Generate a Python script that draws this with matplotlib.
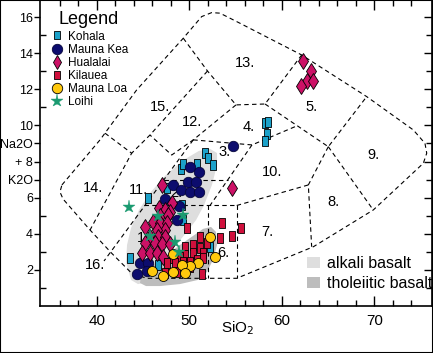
import numpy as np
import matplotlib
matplotlib.use("Agg")
from matplotlib import pyplot as plt
from matplotlib.path import Path
from matplotlib.patches import Polygon, Rectangle, Patch
from matplotlib.lines import Line2D

plt.rcParams['font.family'] = ['Liberation Sans', 'DejaVu Sans']

# samples: SiO2 (wt%) and Na2O + K2O (wt%)
kohala_si = [58.20, 58.55, 58.41, 58.20, 51.71, 52.06, 52.61, 49.06, 49.38, 50.81,
             47.57, 45.55, 49.19, 49.30, 43.60, 46.63, 48.65, 49.65, 52.25]
kohala_alk = [10.12, 10.21, 9.53, 9.14, 8.46, 8.18, 7.81, 7.59, 7.84, 7.86,
              6.52, 5.96, 5.59, 4.76, 2.63, 2.26, 2.16, 2.04, 3.27]

maunakea_si = [54.77, 50.09, 51.06, 48.25, 49.87, 50.74, 49.11, 50.09, 51.06, 47.38,
               48.90, 48.65, 44.68, 45.58, 44.39, 45.44]
maunakea_alk = [8.86, 7.71, 7.44, 6.70, 6.86, 6.86, 6.42, 6.33, 6.33, 5.92,
                5.53, 4.76, 2.35, 2.35, 1.76, 1.93]

hualalai_si = [62.27, 63.14, 62.77, 63.42, 62.09, 54.66, 47.03, 48.17, 46.74, 47.38,
               47.92, 46.84, 47.74, 45.22, 46.12, 46.84, 47.57, 47.38, 46.49, 45.76,
               46.66, 47.38, 45.22, 46.30, 47.03, 44.86, 45.76, 46.49, 47.20, 47.92]
hualalai_alk = [13.60, 13.02, 12.47, 12.49, 12.19, 6.55, 6.70, 5.72, 5.41, 5.31,
                5.22, 4.98, 5.03, 4.38, 4.66, 4.57, 4.57, 4.20, 4.20, 3.83,
                3.83, 3.83, 3.46, 3.46, 3.42, 2.91, 2.91, 2.91, 2.72, 3.40]

kilauea_si = [53.51, 55.57, 53.33, 54.66, 49.73, 51.17, 50.44, 49.55, 51.89, 51.17,
              51.52, 50.44, 49.55, 49.01, 48.11, 47.57, 48.46, 49.36, 50.09, 50.81,
              51.52, 50.09, 48.65, 51.35, 47.38]
kilauea_alk = [4.57, 4.30, 3.78, 3.84, 4.30, 3.83, 3.37, 3.27, 3.46, 3.19,
               2.91, 2.91, 2.81, 2.72, 2.63, 2.35, 2.35, 2.44, 2.44, 2.54,
               2.63, 2.16, 1.89, 1.76, 1.80]

maunaloa_si = [52.25, 48.28, 52.79, 50.98, 50.09, 49.19, 49.55, 48.28, 47.20, 45.98]
maunaloa_alk = [3.83, 2.87, 2.72, 2.35, 2.22, 2.26, 1.80, 1.85, 1.63, 1.95]

loihi_si = [43.44, 46.66, 49.36, 45.76, 48.42, 48.95]
loihi_alk = [5.45, 4.96, 5.01, 3.86, 3.55, 2.98]

# basalt fields
alkali_si = [43.71, 43.17, 43.28, 43.71, 44.57, 45.76, 47.38, 49.22, 51.06, 52.25, 53.01,
             53.01, 52.46, 51.60, 50.74, 49.65, 48.57, 47.49, 46.84, 46.30, 45.55, 44.46]
alkali_alk = [1.43, 2.43, 3.37, 4.31, 5.31, 6.25, 7.20, 8.03, 8.59, 8.70, 8.47,
              7.81, 6.70, 5.57, 4.75, 4.03, 3.37, 2.81, 2.43, 1.87, 1.32, 1.20]
thol_si = [44.68, 45.33, 46.84, 49.01, 50.95, 51.92, 52.57, 53.01, 52.90, 52.36, 51.49,
           50.41, 49.01, 47.71, 46.52, 45.55, 44.79]
thol_alk = [1.26, 1.09, 1.09, 1.20, 1.43, 1.87, 2.54, 3.37, 4.09, 4.37, 4.26,
            3.87, 3.37, 2.87, 2.43, 1.98, 1.59]

# TAS field outline and boundaries (SiO2, alkalis)
outline = [(36.24, 6.70), (40.36, 9.20), (44.32, 11.97), (49.36, 14.84), (51.35, 16.04),
           (52.43, 16.26), (53.33, 16.23), (55.49, 15.67), (62.16, 13.91), (69.19, 11.60),
           (74.23, 9.75), (75.49, 9.01), (75.68, 8.46), (75.31, 7.90), (69.90, 5.31),
           (63.42, 3.27), (55.14, 1.52), (45.41, 1.52), (43.78, 1.80), (41.62, 2.91),
           (39.28, 4.20), (36.36, 5.92), (36.03, 6.31), (36.24, 6.70)]
boundaries = [
    [(49.36, 14.84), (51.98, 13.02), (55.06, 11.14), (58.20, 11.19), (62.16, 13.91)],
    [(58.20, 11.19), (65.04, 8.82), (69.19, 11.60)],
    [(65.04, 8.82), (69.90, 5.31)],
    [(65.04, 8.82), (62.88, 6.70), (63.24, 3.27)],
    [(55.14, 5.56), (62.88, 6.70)],
    [(55.14, 5.56), (55.14, 1.52)],
    [(52.06, 5.56), (52.06, 1.52)],
    [(45.15, 5.56), (55.14, 5.56)],
    [(47.28, 6.98), (54.19, 6.98)],
    [(56.79, 8.92), (52.25, 5.56)],
    [(50.44, 9.20), (56.79, 8.92), (61.62, 9.97)],
    [(55.06, 11.14), (50.44, 9.20), (48.11, 8.36), (45.76, 9.47)],
    [(51.98, 13.02), (45.76, 9.47), (43.78, 8.46)],
    [(40.90, 9.57), (43.78, 8.46), (39.28, 4.20)],
    [(50.44, 9.20), (40.79, 2.48)],
]
field_names = ["1.", "2.", "3.", "4.", "5.", "6.", "7.", "8.", "9.", "10.",
               "11.", "12.", "13.", "14.", "15.", "16."]
field_si = [45.04, 48.65, 53.87, 56.39, 63.24, 53.69, 58.44, 65.58, 69.90, 58.92,
            44.50, 50.27, 56.03, 39.63, 46.84, 39.82]
field_alk = [3.74, 6.24, 8.55, 9.93, 11.04, 2.91, 4.11, 5.77, 8.36, 7.44,
             6.42, 10.21, 13.45, 6.51, 11.04, 2.26]

rect = Path([(-0.38, -0.5), (0.38, -0.5), (0.38, 0.5), (-0.38, 0.5), (-0.38, -0.5)], closed=True)

fig = plt.figure(figsize=(4.33, 3.53), dpi=100)
ax = fig.add_axes([40 / 433, 47.3 / 353, 392 / 433, 305.7 / 353])
ax.set_xlim(33.87, 76.25)
ax.set_ylim(0, 16.96)

ax.add_patch(Polygon(np.column_stack([alkali_si, alkali_alk]), closed=True,
                     facecolor='#dedede', edgecolor='none', zorder=1))
ax.add_patch(Polygon(np.column_stack([thol_si, thol_alk]), closed=True,
                     facecolor='#bdbdbd', edgecolor='none', zorder=1))

dash = (0, (4, 3))
ax.plot([p[0] for p in outline], [p[1] for p in outline], color='black', lw=0.8, ls=dash, zorder=2)
for seg in boundaries:
    ax.plot([p[0] for p in seg], [p[1] for p in seg], color='black', lw=0.8, ls=dash, zorder=2)

for name, x, y in zip(field_names, field_si, field_alk):
    ax.text(x, y, name, fontsize=10.5, ha='center', va='center', zorder=3)

ax.plot(kohala_si, kohala_alk, ls='none', marker=rect, ms=6.5, mfc='#1ba1c9', mec='black', mew=0.6, zorder=4)
ax.plot(maunakea_si, maunakea_alk, ls='none', marker='o', ms=7.5, mfc='#0c0c6e', mec='#05053a', mew=0.6, zorder=4)
ax.plot(hualalai_si, hualalai_alk, ls='none', marker='d', ms=8, mfc='#cc1166', mec='black', mew=0.6, zorder=4)
ax.plot(kilauea_si, kilauea_alk, ls='none', marker=rect, ms=6.5, mfc='#d0103c', mec='black', mew=0.6, zorder=4)
ax.plot(maunaloa_si, maunaloa_alk, ls='none', marker='o', ms=7.2, mfc='#ffc90e', mec='black', mew=0.6, zorder=4)
ax.plot(loihi_si, loihi_alk, ls='none', marker='*', ms=9.5, mfc='#1a9a70', mec='#1a9a70', mew=0.3, zorder=5)

handles = [
    Line2D([], [], ls='none', marker=rect, ms=6, mfc='#1ba1c9', mec='black', mew=0.6),
    Line2D([], [], ls='none', marker='o', ms=7.5, mfc='#0c0c6e', mec='#05053a', mew=0.6),
    Line2D([], [], ls='none', marker='d', ms=7.5, mfc='#cc1166', mec='black', mew=0.6),
    Line2D([], [], ls='none', marker=rect, ms=6, mfc='#d0103c', mec='black', mew=0.6),
    Line2D([], [], ls='none', marker='o', ms=7.5, mfc='#ffc90e', mec='black', mew=0.6),
    Line2D([], [], ls='none', marker='*', ms=9.5, mfc='#1a9a70', mec='#1a9a70', mew=0.3),
]
labels = ["Kohala", "Mauna Kea", "Hualalai", "Kilauea", "Mauna Loa", "Loihi"]
leg = ax.legend(handles, labels, loc='upper left', bbox_to_anchor=(12.3 / 392, 1 - 30.5 / 305.7),
                frameon=False, borderpad=0, handlelength=0.8, handletextpad=0.5,
                labelspacing=0.1, fontsize=8.5, borderaxespad=0)
ax.add_artist(leg)
ax.text(18 / 392, 1 - 24.5 / 305.7, "Legend", transform=ax.transAxes, fontsize=13,
        ha='left', va='baseline')

leg2 = ax.legend([Patch(facecolor='#dedede'), Patch(facecolor='#bdbdbd')],
                 ["alkali basalt", "tholeiitic basalt"], loc='upper left',
                 bbox_to_anchor=(266.7 / 392, 1 - 256 / 305.7), frameon=False, borderpad=0,
                 handlelength=0.82, handleheight=0.68, handletextpad=0.42, labelspacing=0.32,
                 fontsize=11.5, borderaxespad=0)

ax.set_xticks([40, 50, 60, 70])
ax.set_xticks(np.arange(36, 76, 2), minor=True)
ax.tick_params(axis='x', which='both', direction='in', top=True, labelsize=11, pad=6, width=1)
ax.tick_params(axis='x', which='major', length=7)
ax.tick_params(axis='x', which='minor', length=4.5)
ax.set_yticks([2, 4, 6, 7, 8, 9, 10, 12, 14, 16])
ax.set_yticklabels(["2", "4", "6", "K2O", "+ 8", "Na2O", "10", "12", "14", "16"])
ax.set_yticks([1, 3, 5, 11, 13, 15], minor=True)
ax.tick_params(axis='y', which='major', direction='out', length=4, pad=1, labelsize=9, width=1)
ax.tick_params(axis='y', which='minor', direction='in', length=4, width=1)
sec = ax.secondary_yaxis('right')
sec.set_yticks(np.arange(2, 17, 2))
sec.set_yticks(np.arange(1, 17, 2), minor=True)
sec.tick_params(which='both', direction='in', labelright=False, width=1)
sec.tick_params(which='major', length=6)
sec.tick_params(which='minor', length=4)
for s in ax.spines.values():
    s.set_linewidth(1.2)
ax.set_xlabel("SiO$_2$", fontsize=11)
ax.xaxis.set_label_coords(0.503, -0.045)

fig.patches.append(Rectangle((0, 0), 1, 1, transform=fig.transFigure, fill=False,
                             edgecolor='black', lw=1.5))
fig.savefig("out.png", dpi=100)
